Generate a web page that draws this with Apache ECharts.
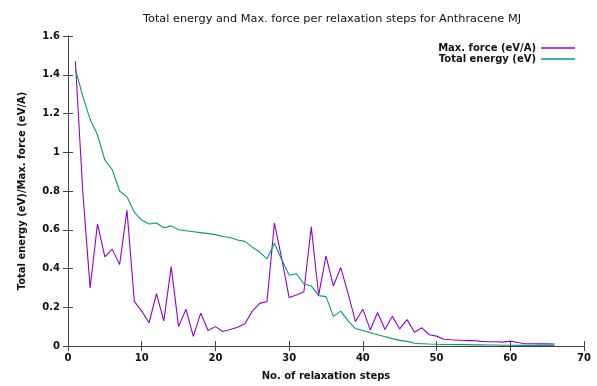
<!DOCTYPE html>
<html>
<head>
<meta charset="utf-8">
<script src="https://cdn.jsdelivr.net/npm/echarts@6/dist/echarts.min.js"></script>
<style>html,body{margin:0;padding:0;background:#fff}#c{width:597px;height:386px}</style>
</head>
<body>
<div id="c"></div>
<script>
const steps = [1,2,3,4,5,6,7,8,9,10,11,12,13,14,15,16,17,18,19,20,21,22,23,24,25,26,27,28,29,30,31,32,33,34,35,36,37,38,39,40,41,42,43,44,45,46,47,48,49,50,51,52,53,54,55,56,57,58,59,60,61,62,63,64,65,66];
const maxForce = [1.47,0.80,0.30,0.63,0.46,0.50,0.42,0.70,0.23,0.18,0.12,0.27,0.13,0.41,0.10,0.19,0.05,0.17,0.08,0.10,
  0.075,0.085,0.097,0.115,0.18,0.22,0.23,0.635,0.45,0.25,0.263,0.28,0.615,0.263,0.465,0.31,0.405,0.27,0.126,0.19,
  0.083,0.173,0.085,0.153,0.088,0.136,0.071,0.094,0.058,0.051,0.035,0.032,0.030,0.028,0.028,0.024,0.022,0.022,0.020,0.025,
  0.018,0.012,0.012,0.011,0.011,0.010];
const totalEnergy = [1.43,1.29,1.17,1.09,0.96,0.91,0.80,0.77,0.69,0.65,0.63,0.635,0.61,0.62,0.60,0.595,0.59,0.585,0.58,0.575,
  0.565,0.56,0.547,0.54,0.51,0.485,0.45,0.53,0.445,0.365,0.373,0.32,0.31,0.26,0.255,0.153,0.18,0.13,0.09,0.08,
  0.068,0.058,0.048,0.038,0.029,0.024,0.014,0.012,0.010,0.009,0.008,0.008,0.007,0.007,0.006,0.006,0.005,0.005,0.004,0.004,
  0.003,0.003,0.003,0.003,0.003,0.003];
const seriesNames = ['Max. force (eV/A)', 'Total energy (eV)'];
const titleText = 'Total energy and Max. force per relaxation steps for Anthracene MJ';
const xName = 'No. of relaxation steps';
const yName = 'Total energy (eV)/Max. force (eV/A)';

const FONT = 'DejaVu Sans';
const axisCol = '#444';
const chart = echarts.init(document.getElementById('c'));
const pair = (xs, ys) => xs.map((x, i) => [x, ys[i]]);
const baseX = {type:'value', min:0, max:70, interval:10,
  axisLine:{show:true, lineStyle:{color:axisCol, width:1}},
  axisTick:{show:true, inside:true, length:5, lineStyle:{color:axisCol}},
  splitLine:{show:false}};
const baseY = {type:'value', min:0, max:1.6, interval:0.2,
  axisLine:{show:true, lineStyle:{color:axisCol, width:1}},
  axisTick:{show:true, inside:true, length:5, lineStyle:{color:axisCol}},
  splitLine:{show:false}};
chart.setOption({
  animation:false,
  backgroundColor:'#fff',
  title:{text:titleText, left:138, top:9, textStyle:{fontFamily:FONT, fontSize:11.3, fontWeight:'normal', color:'#111'}},
  legend:{right:17, top:38, orient:'vertical', align:'right', itemWidth:34, itemHeight:1.5, icon:'rect', itemGap:1,
    textStyle:{fontFamily:FONT, fontSize:10, fontWeight:'bold', color:'#111'},
    data:seriesNames},
  grid:{left:68, right:13, top:36, bottom:35},
  xAxis:[
    Object.assign({}, baseX, {position:'bottom', name:xName, nameLocation:'middle', nameGap:25,
      nameTextStyle:{fontFamily:FONT, fontSize:10, fontWeight:'bold', color:'#111'},
      axisLabel:{margin:7, fontFamily:FONT, fontSize:10, fontWeight:'bold', color:'#111'}}),
    Object.assign({}, baseX, {position:'top', axisLabel:{show:false}})
  ],
  yAxis:[
    Object.assign({}, baseY, {position:'left', name:yName, nameLocation:'middle', nameGap:41,
      nameTextStyle:{fontFamily:FONT, fontSize:10, fontWeight:'bold', color:'#111'},
      axisLabel:{margin:8, fontFamily:FONT, fontSize:10, fontWeight:'bold', color:'#111'}}),
    Object.assign({}, baseY, {position:'right', axisLabel:{show:false}})
  ],
  series:[
    {name:seriesNames[0], type:'line', data:pair(steps, maxForce), showSymbol:false, symbol:'none',
      lineStyle:{color:'#9400d3', width:1.1}, itemStyle:{color:'#9400d3'}},
    {name:seriesNames[1], type:'line', data:pair(steps, totalEnergy), showSymbol:false, symbol:'none',
      lineStyle:{color:'#009e73', width:1.1}, itemStyle:{color:'#009e73'}}
  ]
});
</script>
</body>
</html>
